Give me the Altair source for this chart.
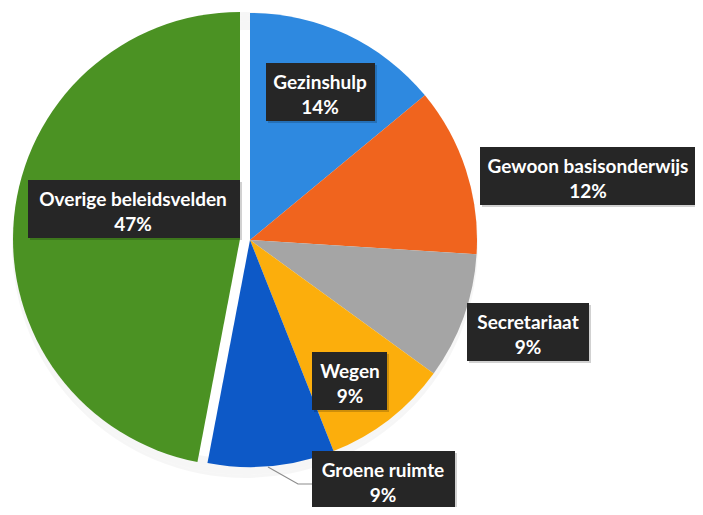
import altair as alt
import pandas as pd

# ---- data ----
categories = ["Gezinshulp", "Gewoon basisonderwijs", "Secretariaat", "Wegen", "Groene ruimte", "Overige beleidsvelden"]
shares = [14, 12, 9, 9, 9, 47]
pct_labels = ["14%", "12%", "9%", "9%", "9%", "47%"]
colors = ["#2E89E0", "#F0641E", "#A5A5A5", "#FCAE0C", "#0D59C7", "#4B9223"]

# ---- layout (screen pixels, page margin 8 removed below) ----
M = 8
CX, CY, R = 250 - M, 240 - M, 227
EXPLODE_DX, EXPLODE_DY = -10, -1

box_x1 = [266, 480, 467, 312, 312, 28]
box_x2 = [375, 704, 589, 387, 455, 240]
box_y1 = [63, 147, 303, 352, 451, 180]
text_cx = [320, 588, 528, 350, 383, 133]

df = pd.DataFrame({
    "cat": categories,
    "share": shares,
    "idx": list(range(len(categories))),
    "pct": pct_labels,
})
df["expl"] = df["cat"] == "Overige beleidsvelden"

lab = pd.DataFrame({
    "cat": categories,
    "pct": pct_labels,
    "x1": [v - M for v in box_x1],
    "x2": [v - M for v in box_x2],
    "y1": [v - M for v in box_y1],
    "y2": [v - M + 58 for v in box_y1],
    "tx": [v - M for v in text_cx],
    "ty1": [v - M + 19.5 for v in box_y1],
    "ty2": [v - M + 45 for v in box_y1],
})

color_scale = alt.Scale(domain=categories, range=colors)

shadow = alt.Chart(pd.DataFrame({"s": [0, 1, 2, 3]})).mark_arc(
    theta=0, theta2=6.2832, color="#000000", opacity=0.035
).encode(
    x=alt.value(CX - 5), y=alt.value(CY + 5),
    radius=alt.Radius("s:Q", scale=alt.Scale(domain=[0, 3], range=[R + 6, R - 3]))
)

base = alt.Chart(df)

pie_main = base.mark_arc(outerRadius=R, stroke=None).encode(
    theta=alt.Theta("share:Q", stack=True),
    order=alt.Order("idx:Q"),
    color=alt.Color("cat:N", scale=color_scale, legend=None, sort=categories),
    opacity=alt.condition("datum.expl", alt.value(0), alt.value(1)),
    x=alt.value(CX), y=alt.value(CY),
)

pie_expl = base.mark_arc(outerRadius=R, stroke=None).encode(
    theta=alt.Theta("share:Q", stack=True),
    order=alt.Order("idx:Q"),
    color=alt.Color("cat:N", scale=color_scale, legend=None, sort=categories),
    opacity=alt.condition("datum.expl", alt.value(1), alt.value(0)),
    x=alt.value(CX + EXPLODE_DX), y=alt.value(CY + EXPLODE_DY),
)

leader = alt.Chart(pd.DataFrame({
    "lx": [268 - M, 298 - M, 312 - M],
    "ly": [467 - M, 484 - M, 484 - M],
    "o": [0, 1, 2],
})).mark_line(color="#8C8C8C", strokeWidth=1.2).encode(
    x=alt.X("lx:Q", scale=None), y=alt.Y("ly:Q", scale=None), order="o:Q"
)

lbase = alt.Chart(lab)
box_shadow = lbase.mark_rect(color="#000000", opacity=0.18).encode(
    x=alt.X("x1:Q", scale=None), x2="x2:Q",
    y=alt.Y("y1:Q", scale=None), y2="y2:Q",
).transform_calculate(x1="datum.x1+2", x2="datum.x2+2", y1="datum.y1+2", y2="datum.y2+2")
boxes = lbase.mark_rect(color="#262626").encode(
    x=alt.X("x1:Q", scale=None), x2="x2:Q",
    y=alt.Y("y1:Q", scale=None), y2="y2:Q",
)
font = "Lato"
FS = 19
t1 = lbase.mark_text(color="white", font=font, fontSize=FS, fontWeight="bold", baseline="middle").encode(
    x=alt.X("tx:Q", scale=None), y=alt.Y("ty1:Q", scale=None), text="cat:N"
)
t2 = lbase.mark_text(color="white", font=font, fontSize=FS, fontWeight="bold", baseline="middle").encode(
    x=alt.X("tx:Q", scale=None), y=alt.Y("ty2:Q", scale=None), text="pct:N"
)

chart = alt.layer(shadow, pie_main, pie_expl, leader, box_shadow, boxes, t1, t2).properties(
    width=703 - 2 * M, height=515 - 2 * M, padding=0,
    autosize=alt.AutoSizeParams(type="none"),
    background="white",
).configure_view(stroke=None)

chart.save("out.html", embed_options={"renderer": "svg", "actions": False})
